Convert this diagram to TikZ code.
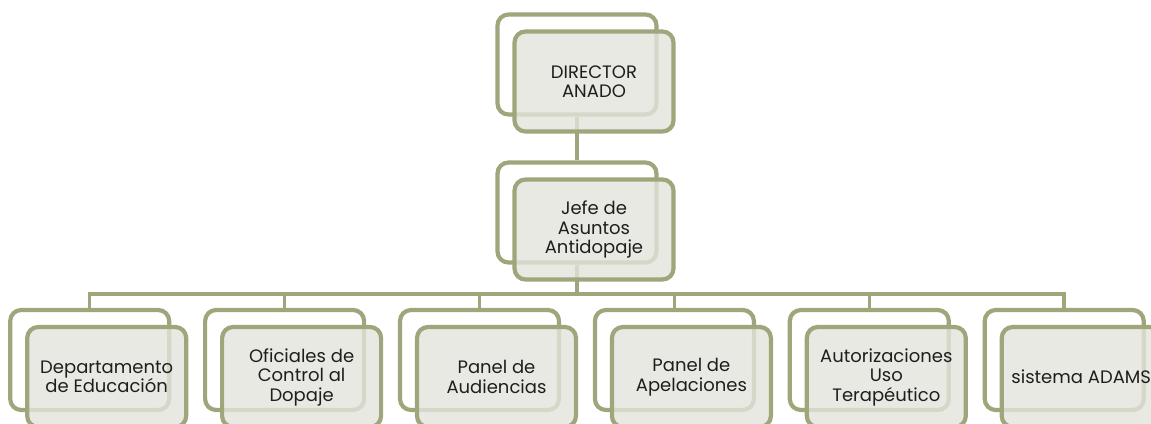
\documentclass[tikz,border=0pt]{standalone}
\usepackage{fontspec}
\setmainfont{Poppins}
\definecolor{frameol}{RGB}{160,165,124}
\definecolor{boxfill}{RGB}{228,228,220}
\definecolor{boxtext}{RGB}{30,30,30}

\begin{document}
\begin{tikzpicture}[x=1pt,y=-1pt,
  back/.style={draw=frameol, line width=4.2pt, rounded corners=11pt, fill=white,
    minimum width=159pt, minimum height=100pt, inner sep=0pt},
  front/.style={back, fill=boxfill, fill opacity=0.8, text opacity=1,
    text=boxtext, align=center, font=\fontsize{18}{19.5}\selectfont},
  link/.style={draw=frameol, line width=3.5pt}]
\useasboundingbox (0,0) rectangle (1151,423);
\clip (0,0) rectangle (1151,423);
% back frames
\node[back] (dirB) at (577,64.5) {};
\node[back] (jefB) at (577,212.5) {};
\node[back] (eduB) at (89.7,360) {};
\node[back] (ofiB) at (284.6,360) {};
\node[back] (audB) at (479.5,360) {};
\node[back] (apeB) at (674.4,360) {};
\node[back] (autB) at (869.3,360) {};
\node[back] (adaB) at (1064.2,360) {};
% connectors
\draw[link] (dirB.south) -- (jefB.north);
\draw[link] (jefB.south) -- ++(0,29.5) -| (eduB.north);
\draw[link] (jefB.south) -- ++(0,29.5) -| (ofiB.north);
\draw[link] (jefB.south) -- ++(0,29.5) -| (audB.north);
\draw[link] (jefB.south) -- ++(0,29.5) -| (apeB.north);
\draw[link] (jefB.south) -- ++(0,29.5) -| (autB.north);
\draw[link] (jefB.south) -- ++(0,29.5) -| (adaB.north);
% front boxes
\node[front] (dir) at ([shift={(17,17)}]dirB.center) {DIRECTOR\\ANADO};
\node[front] (jef) at ([shift={(17,17)}]jefB.center) {Jefe de\\Asuntos\\Antidopaje};
\node[front] (edu) at ([shift={(17,17)}]eduB.center) {Departamento\\de Educación};
\node[front] (ofi) at ([shift={(17,17)}]ofiB.center) {Oficiales de\\Control al\\Dopaje};
\node[front] (aud) at ([shift={(17,17)}]audB.center) {Panel de\\Audiencias};
\node[front] (ape) at ([shift={(17,17)}]apeB.center) {Panel de\\Apelaciones};
\node[front] (aut) at ([shift={(17,17)}]autB.center) {Autorizaciones\\Uso\\Terapéutico};
\node[front] (ada) at ([shift={(17,17)}]adaB.center) {sistema ADAMS};
\end{tikzpicture}
\end{document}
